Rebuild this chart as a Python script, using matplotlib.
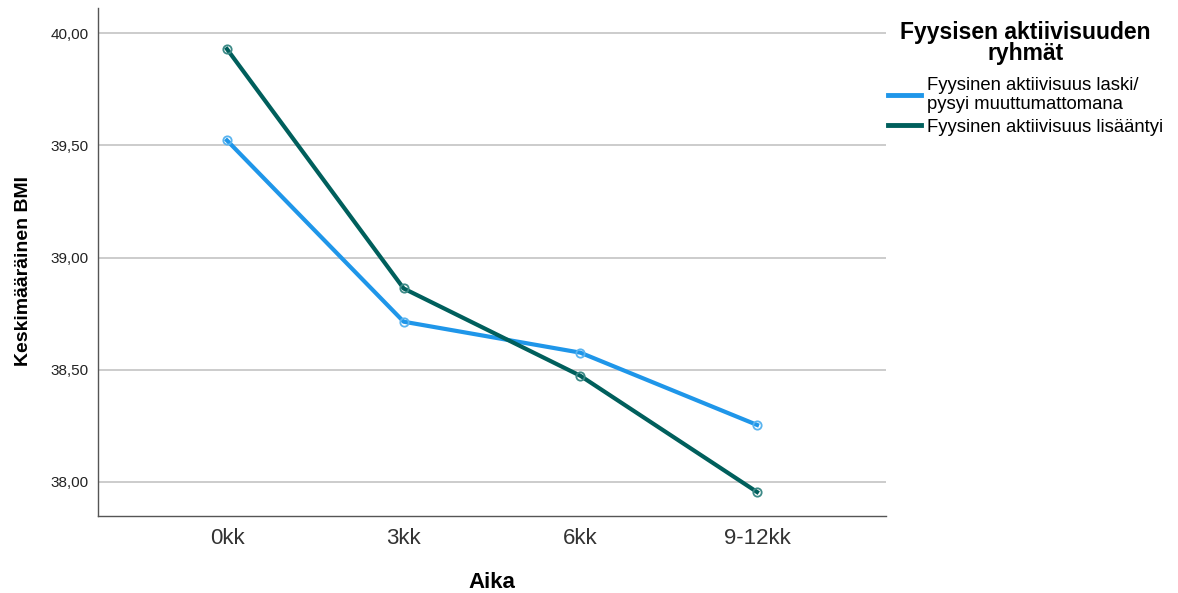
import matplotlib.pyplot as plt
from matplotlib.lines import Line2D
from matplotlib.ticker import FuncFormatter

plt.rcParams['font.family'] = ['Liberation Sans', 'DejaVu Sans']

times = ["0kk", "3kk", "6kk", "9-12kk"]
bmi_laski = [39.522, 38.714, 38.576, 38.254]
bmi_lisaantyi = [39.929, 38.862, 38.473, 37.955]
legends = ["Fyysinen aktiivisuus laski/\npysyi muuttumattomana", "Fyysinen aktiivisuus lisääntyi"]

blue = '#1f96e9'
green = '#005f5c'

fig = plt.figure(figsize=(11.78, 5.93), dpi=100)
ax = fig.add_axes([98 / 1178, 1 - 516 / 593, (886 - 98) / 1178, (516 - 8) / 593])

x = list(range(len(times)))
ax.plot(x, bmi_laski, '-', color=blue, lw=3, marker='o', ms=6, mfc='none', mec='#5ab4ef', mew=1.3, zorder=3)
ax.plot(x, bmi_lisaantyi, '-', color=green, lw=3, marker='o', ms=6, mfc='none', mec='#3d8a87', mew=1.3, zorder=3)

ax.set_xlim(-0.73, 3.73)
ax.set_ylim(37.848, 40.112)
ax.set_yticks([38.0, 38.5, 39.0, 39.5, 40.0])
ax.yaxis.set_major_formatter(FuncFormatter(lambda v, p: f"{v:.2f}".replace('.', ',')))
ax.set_xticks(x)
ax.set_xticklabels(times, fontsize=16, color='#333333')
ax.tick_params(axis='y', labelsize=11, length=0, pad=7, colors='#222222')
ax.tick_params(axis='x', length=0, pad=9)
ax.grid(axis='y', color='#c8c8c8', lw=1.3)
ax.set_axisbelow(True)
for s in ['top', 'right']:
    ax.spines[s].set_visible(False)
for s in ['left', 'bottom']:
    ax.spines[s].set_color('#555555')
    ax.spines[s].set_linewidth(1)

ax.set_ylabel('Keskimääräinen BMI', fontsize=14, fontweight='bold')
ax.yaxis.set_label_coords(-0.084, 0.482)
ax.set_xlabel('Aika', fontsize=16, fontweight='bold', labelpad=16)

handles = [Line2D([], [], color=blue, lw=3.5), Line2D([], [], color=green, lw=3.5)]
leg = ax.legend(handles, legends, loc='upper left', bbox_to_anchor=(1.0025, 0.975), frameon=False,
                fontsize=13.3, title='Fyysisen aktiivisuuden\nryhmät', handlelength=1.8, handletextpad=0.33,
                labelspacing=0.3, borderaxespad=0, borderpad=0, alignment='center')
leg.get_title().set_fontweight('bold')
leg.get_title().set_fontsize(16.5)
leg.get_title().set_multialignment('center')
leg.get_title().set_linespacing(0.9)
for t in leg.get_texts():
    t.set_linespacing(1.15)
leg._legend_box.sep = 9

fig.savefig('out.png', dpi=100)
